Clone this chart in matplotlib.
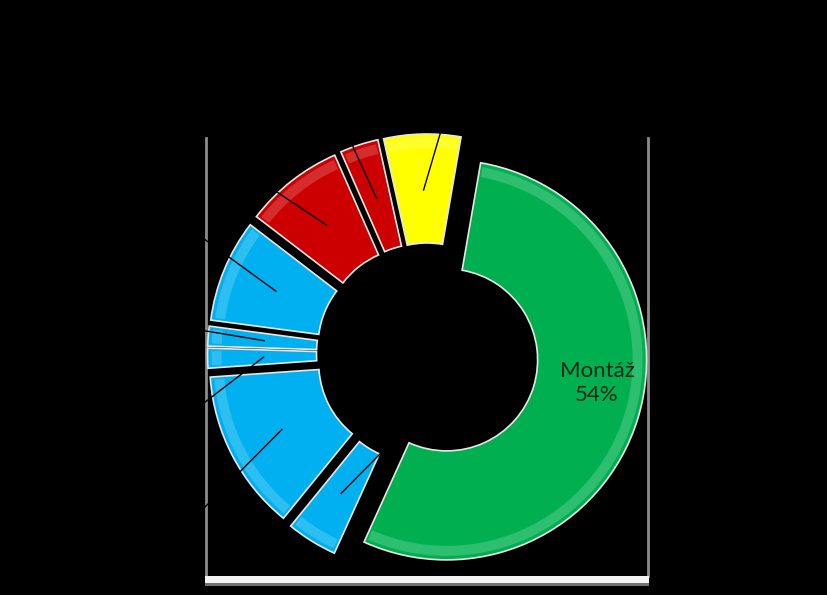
import numpy as np
import matplotlib
matplotlib.use("Agg")
from matplotlib import pyplot as plt
from matplotlib.patches import Rectangle, Wedge

# slice data, clockwise from the top (only the Montáž label is readable)
labels = ["Montáž", "", "", "", "", "", "", "", ""]
values = [54.0, 4.1, 13.0, 1.6, 1.6, 8.3, 8.0, 3.1, 6.2]
colors = ["#00B050", "#00B0F0", "#00B0F0", "#00B0F0", "#00B0F0",
          "#00B0F0", "#CC0000", "#CC0000", "#FFFF00"]

# where the (black, invisible) data labels sit, in pixels from top-left
label_xy = [None, (382, 452), (200, 512), (200, 406), (200, 330),
            (200, 236), (268, 186), (349, 138), (443, 124)]

W, H = 827, 595
fig = plt.figure(figsize=(W / 100, H / 100), dpi=100, facecolor="black")
ax = fig.add_axes([0, 0, 1, 1])
ax.set_facecolor("black")

# plot area frame (left, right and a light bottom edge)
x0, x1, ytop, ybot = 206, 648, 138, 576
ax.plot([x0, x0], [H - ytop, H - ybot], color="#8c8c8c", lw=2, zorder=1)
ax.plot([x1, x1], [H - ytop, H - ybot], color="#8c8c8c", lw=2, zorder=1)
ax.add_patch(Rectangle((x0 - 1, H - ybot - 7), x1 - x0 + 2, 7,
                       facecolor="#f2f2f2", edgecolor="none", zorder=1))
ax.add_patch(Rectangle((x0 - 1, H - ybot - 10), x1 - x0 + 2, 3,
                       facecolor="#707070", edgecolor="none", zorder=1))

R = 200
center = (427.5, H - 354)
# explode is in data units here (pixels), since radius is in pixels
wedges, _ = ax.pie(values, colors=colors, startangle=80.2, counterclock=False,
                   explode=[20] * len(values), radius=R, center=center,
                   wedgeprops=dict(width=109, edgecolor="#e6e6e6", linewidth=1.2),
                   frame=False)
for w in wedges:
    w.set_zorder(2)

# soft highlight ring near outer edge, to hint at the bevel
for w in wedges:
    hl = Wedge(w.center, R - 4, w.theta1 + 0.8, w.theta2 - 0.8, width=10,
               facecolor="white", alpha=0.18, edgecolor="none", zorder=3)
    ax.add_patch(hl)

# leader lines from the slice middle to the label position
for w, xy in zip(wedges, label_xy):
    if xy is None:
        continue
    mid = np.deg2rad((w.theta1 + w.theta2) / 2)
    cx, cy = w.center
    px = cx + 0.72 * R * np.cos(mid)
    py = cy + 0.72 * R * np.sin(mid)
    ax.plot([px, xy[0]], [py, H - xy[1]], color="black", lw=1.0, zorder=4)

# Montáž label inside the green slice
total = sum(values)
ax.text(597, H - 383, f"{labels[0]}\n{values[0] / total * 100:.0f}%",
        ha="center", va="center", fontsize=16, family=["Lato", "DejaVu Sans"],
        color="#0f2a18", linespacing=1.3, zorder=5)

ax.set_xlim(0, W)
ax.set_ylim(0, H)
ax.set_aspect("equal")
ax.axis("off")

fig.savefig("out.png", dpi=100, facecolor="black")
